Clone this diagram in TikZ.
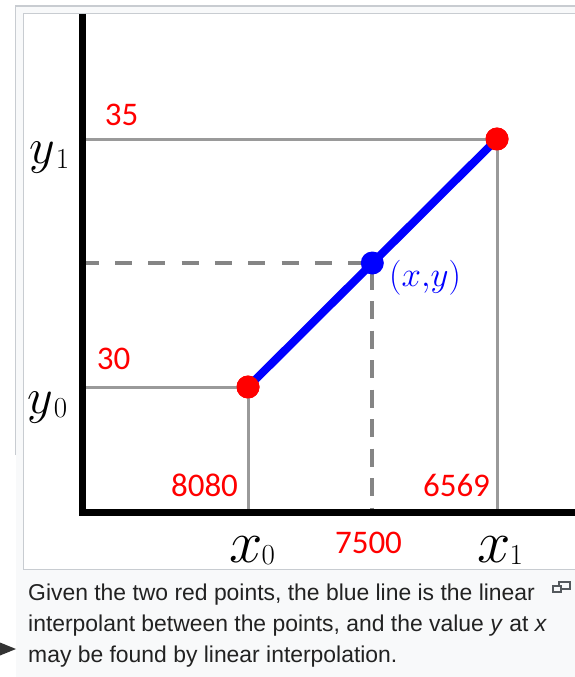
\RequirePackage{fix-cm}
\documentclass[tikz,border=0pt]{standalone}
\usepackage{fontspec}
\setsansfont{Liberation Sans}
\newfontfamily\numfont{Carlito}
\definecolor{framegray}{HTML}{C8CCD1}
\definecolor{capbg}{HTML}{F8F9FA}
\definecolor{gridgray}{HTML}{9A9A9A}
\definecolor{dashgray}{HTML}{858585}
\definecolor{captext}{HTML}{222222}
\definecolor{ptred}{HTML}{FF0000}
\definecolor{ptblue}{HTML}{0000FF}
\definecolor{icongray}{HTML}{54595D}
\begin{document}
\begin{tikzpicture}[x=1pt,y=-1pt,
  gridline/.style={draw=gridgray,line width=3pt},
  dashline/.style={draw=dashgray,line width=4pt},
  axisline/.style={draw=black,line width=7pt},
  interp/.style={draw=ptblue,line width=8pt},
  reddot/.style={circle,fill=ptred,minimum size=23pt,inner sep=0},
  bluedot/.style={circle,fill=ptblue,minimum size=23pt,inner sep=0},
  num/.style={text=ptred,font=\numfont\fontsize{33}{33}\selectfont,inner sep=0,anchor=base},
  mathlbl/.style={inner sep=0,anchor=base west},
  captionline/.style={inner sep=0,anchor=base west,text=captext,font=\sffamily\fontsize{22.9}{31}\selectfont}
]
\useasboundingbox (0,0) rectangle (575,677);
% frame
\fill[capbg] (16,6) rectangle (580,680);
\draw[framegray,line width=1.2pt] (15.5,455) -- (15.5,6) -- (580,6);
\draw[framegray,fill=white,line width=1pt] (23,14) rectangle (580,569);
% key points
\coordinate (O) at (82.5,512.5);
\coordinate (ytop) at (82.5,14);
\coordinate (xend) at (585,512.5);
\node[reddot] (p0) at (248,387) {};
\node[reddot] (p1) at (497,139) {};
\coordinate (pmc) at (372.3,263);
\coordinate (y0a) at (O |- p0);
\coordinate (y1a) at (O |- p1);
\coordinate (x0a) at (p0 |- O);
\coordinate (x1a) at (p1 |- O);
\coordinate (yma) at (86,262.5);
\coordinate (ymb) at (372.3,262.5);
\coordinate (xma) at (pmc |- O);
% grid lines
\draw[gridline] (y1a) -- (p1.center) -- (x1a);
\draw[gridline] (y0a) -- (p0.center) -- (x0a);
\draw[dashline,dash pattern=on 17pt off 16.3pt,dash phase=4.3pt] (yma) -- (ymb);
\draw[dashline,dash pattern=on 18pt off 11.5pt,dash phase=21pt] (pmc) -- (xma);
% axes
\draw[axisline] (ytop) -- (O) -- (xend);
% interpolant
\draw[interp] (p0.center) -- (p1.center);
\node[reddot] at (p0) {};
\node[reddot] at (p1) {};
\node[bluedot] (pm) at (pmc) {};
% labels
\node[num] (n35) at (121.5,125) {35};
\node[num] (n30) at (113.5,369) {30};
\node[num] (n8080) at (204.5,496) {8080};
\node[num] (n6569) at (456.5,496) {6569};
\node[num] (n7500) at (368.5,553) {7500};
\node[mathlbl] (ly1) at (29,163.5) {\fontsize{50}{50}\selectfont$y$\kern1pt\raisebox{-4.5pt}{\fontsize{29}{29}\selectfont 1}};
\node[mathlbl] (ly0) at (27,413) {\fontsize{50}{50}\selectfont$y$\kern1pt\raisebox{-4pt}{\fontsize{29}{29}\selectfont 0}};
\node[mathlbl] (lx0) at (229,562) {\fontsize{60}{60}\selectfont$x$\kern-1pt\raisebox{-2pt}{\fontsize{29}{29}\selectfont 0}};
\node[mathlbl] (lx1) at (477,562) {\fontsize{60}{60}\selectfont$x$\kern-1pt\raisebox{-2pt}{\fontsize{29}{29}\selectfont 1}};
\node[mathlbl,text=ptblue] (lxy) at (389,286) {\fontsize{35}{35}\selectfont$(x{,}y)$};
% caption
\node[captionline] (c1) at (28,600) {Given the two red points, the blue line is the linear};
\node[captionline] (c2) at (28,631) {interpolant between the points, and the value \textit{y} at \textit{x}};
\node[captionline] (c3) at (28,662) {may be found by linear interpolation.};
% enlarge icon
\draw[icongray,line width=1.2pt] (559,582) rectangle (570,589);
\draw[icongray,fill=capbg,line width=1.2pt] (553,586) rectangle (561,592);
% arrow at left
\fill[black!80] (0,642.5) -- (16,649) -- (0,655.5) -- cycle;
\end{tikzpicture}
\end{document}
